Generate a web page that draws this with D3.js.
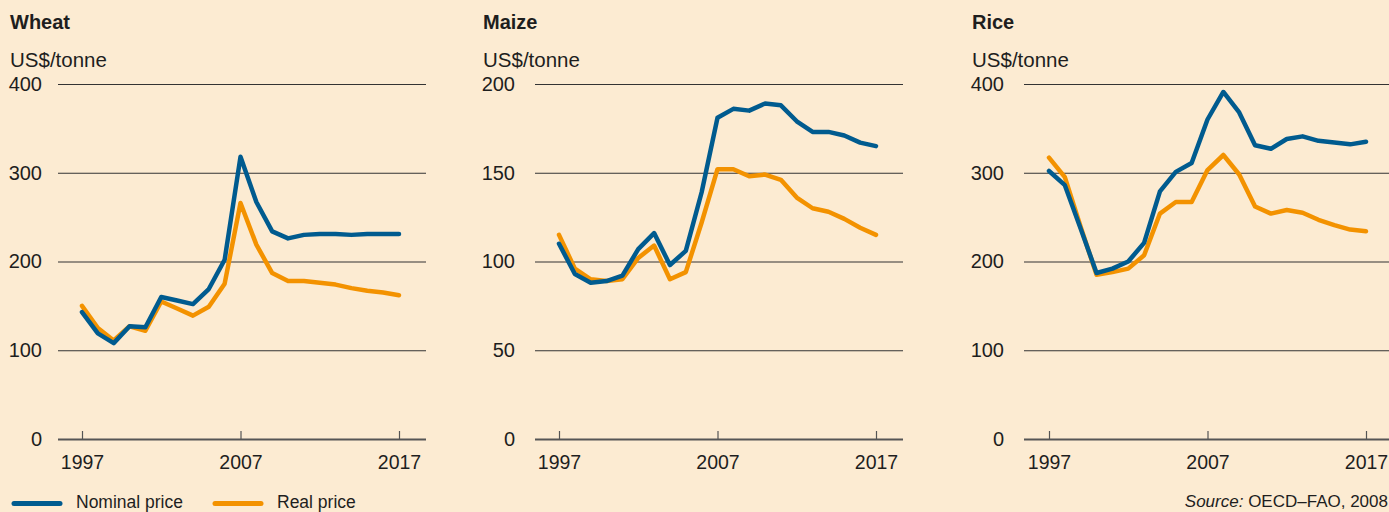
<!DOCTYPE html>
<html>
<head>
<meta charset="utf-8">
<script src="https://cdn.jsdelivr.net/npm/d3@7"></script>
<style>
  body { margin: 0; background: #fcebd2; }
  svg { display: block; font-family: "Liberation Sans", Arial, sans-serif; }
</style>
</head>
<body>
<svg id="chart" width="1389" height="512"></svg>
<script>
// anos 1997..2017
const years = d3.range(1997, 2018);
const yearTicks = [1997, 2007, 2017];

const wheatNominal = [143, 119, 108, 127, 126, 160, 156, 152, 169, 202, 318, 267, 234, 226, 230, 231, 231, 230, 231, 231, 231];
const wheatReal    = [150, 125, 111, 127, 122, 155, 147, 139, 149, 175, 266, 219, 187, 178, 178, 176, 174, 170, 167, 165, 162];

const maizeNominal = [110, 93, 88, 89, 92, 107, 116, 98, 106, 139, 181, 186, 185, 189, 188, 179, 173, 173, 171, 167, 165];
const maizeReal    = [115, 96, 90, 89, 90, 102, 109, 90, 94, 122, 152, 152, 148, 149, 146, 136, 130, 128, 124, 119, 115];

const riceNominal  = [302, 286, 237, 187, 192, 200, 221, 279, 301, 311, 360, 391, 368, 331, 327, 338, 341, 336, 334, 332, 335];
const riceReal     = [317, 295, 239, 185, 188, 192, 207, 254, 267, 267, 303, 320, 298, 262, 254, 258, 255, 247, 241, 236, 234];

const wheatTicks = [0, 100, 200, 300, 400];
const maizeTicks = [0, 50, 100, 150, 200];
const riceTicks  = [0, 100, 200, 300, 400];

const corNominal = "#005b8f";
const corReal = "#f39200";
const corTexto = "#1e1e1e";

const svg = d3.select("#chart");

// desenha um painel
function painel(p) {
    const x = d3.scaleLinear().domain([1997, 2017]).range([p.left, p.left + 317]);
    const y = d3.scaleLinear().domain([0, p.yMax]).range([439, 84]);
    const g = svg.append("g");

    g.append("text").attr("x", p.titleX).attr("y", 29)
        .attr("font-size", 20).attr("font-weight", "bold").attr("fill", corTexto)
        .text(p.titulo);
    g.append("text").attr("x", p.titleX).attr("y", 67)
        .attr("font-size", 20.5).attr("fill", corTexto)
        .text("US$/tonne");

    // linhas de grade
    const yAxis = d3.axisLeft(y).tickValues(p.ticks)
        .tickSize(-(p.gridEnd - p.gridStart)).tickPadding(p.pad);
    const ga = g.append("g").attr("transform", `translate(${p.gridStart},0)`).call(yAxis);
    ga.select(".domain").remove();
    ga.selectAll(".tick line").attr("stroke", "#333").attr("stroke-width", 1.2);
    ga.selectAll(".tick text").attr("font-size", 20).attr("fill", corTexto)
        .attr("font-family", "Liberation Sans, Arial, sans-serif");
    ga.selectAll(".tick").filter(d => d === 0).select("line")
        .attr("stroke", "#555").attr("stroke-width", 2);

    // eixo x
    const xAxis = d3.axisTop(x).tickValues(yearTicks).tickFormat(d3.format("d"))
        .tickSize(8);
    const gx = g.append("g").attr("transform", "translate(0,439)").call(xAxis);
    gx.select(".domain").remove();
    gx.selectAll(".tick line").attr("stroke", "#555").attr("stroke-width", 1.2);
    gx.selectAll(".tick text").attr("y", 30).attr("font-size", 19.5).attr("fill", corTexto)
        .attr("font-family", "Liberation Sans, Arial, sans-serif");

    const line = d3.line().x((d, i) => x(years[i])).y(d => y(d));
    g.append("path").datum(p.real).attr("d", line)
        .attr("fill", "none").attr("stroke", corReal).attr("stroke-width", 4.5)
        .attr("stroke-linejoin", "round").attr("stroke-linecap", "round");
    g.append("path").datum(p.nominal).attr("d", line)
        .attr("fill", "none").attr("stroke", corNominal).attr("stroke-width", 4.5)
        .attr("stroke-linejoin", "round").attr("stroke-linecap", "round");
}

painel({ titulo: "Wheat", titleX: 10, left: 82, gridStart: 58, gridEnd: 426, pad: 16,
         yMax: 400, ticks: wheatTicks, nominal: wheatNominal, real: wheatReal });
painel({ titulo: "Maize", titleX: 483, left: 559, gridStart: 535, gridEnd: 903, pad: 20,
         yMax: 200, ticks: maizeTicks, nominal: maizeNominal, real: maizeReal });
painel({ titulo: "Rice", titleX: 972, left: 1049, gridStart: 1024, gridEnd: 1389, pad: 20,
         yMax: 400, ticks: riceTicks, nominal: riceNominal, real: riceReal });

// legenda
const legenda = [
    { nome: "Nominal price", cor: corNominal, x: 14 },
    { nome: "Real price", cor: corReal, x: 215 }
];
legenda.forEach(l => {
    svg.append("line").attr("x1", l.x).attr("x2", l.x + 46).attr("y1", 503.5).attr("y2", 503.5)
        .attr("stroke", l.cor).attr("stroke-width", 5).attr("stroke-linecap", "round");
    svg.append("text").attr("x", l.x + 62).attr("y", 507.5)
        .attr("font-size", 17.5).attr("fill", corTexto).text(l.nome);
});

const fonte = svg.append("text").attr("x", 1388).attr("y", 507)
    .attr("text-anchor", "end").attr("font-size", 17).attr("fill", corTexto);
fonte.append("tspan").attr("font-style", "italic").text("Source:");
fonte.append("tspan").text(" OECD\u2013FAO, 2008");
</script>
</body>
</html>
